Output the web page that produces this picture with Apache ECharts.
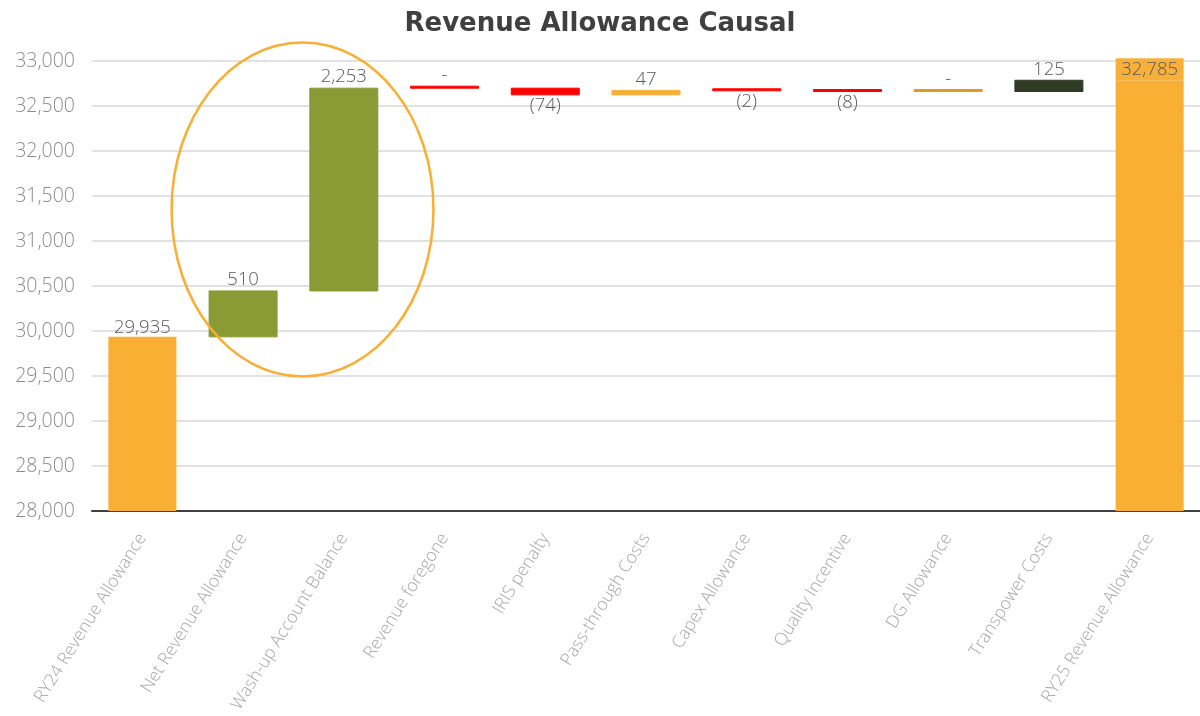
<!DOCTYPE html>
<html>
<head>
<meta charset="utf-8">
<script src="https://cdn.jsdelivr.net/npm/echarts@6/dist/echarts.min.js"></script>
<style>
  html, body { margin: 0; padding: 0; background: #fff; }
  #chart { width: 1200px; height: 716px; }
</style>
</head>
<body>
<div id="chart"></div>
<script>
// Revenue allowance bridge from RY24 to RY25 ($000)
const categories = [
  'RY24 Revenue Allowance', 'Net Revenue Allowance', 'Wash-up Account Balance',
  'Revenue foregone', 'IRIS penalty', 'Pass-through Costs', 'Capex Allowance',
  'Quality Incentive', 'DG Allowance', 'Transpower Costs', 'RY25 Revenue Allowance'
];
const values = [29935, 510, 2253, 0, -74, 47, -2, -8, 0, 125, 32785];
const isTotal = [true, false, false, false, false, false, false, false, false, false, true];
const barColors = [
  '#F9AE34', '#8A9A35', '#8A9A35', '#FF0000', '#FF0000', '#F9AE34',
  '#FF0000', '#FF0000', '#E39A1F', '#2F3B24', '#F9AE34'
];
const yTicks = { min: 28000, max: 33000, interval: 500 };

// Build floating base + step series for the bridge
const totalData = [];
const baseData = [];
const stepData = [];
let running = 0;
values.forEach((v, i) => {
  if (isTotal[i]) {
    running = v;
    totalData.push({ value: v, itemStyle: { color: barColors[i] } });
    baseData.push('-');
    stepData.push('-');
  } else {
    const start = running;
    const end = running + v;
    running = end;
    totalData.push('-');
    baseData.push(Math.min(start, end));
    stepData.push({ value: Math.abs(v), raw: v, itemStyle: { color: barColors[i], borderColor: barColors[i] } });
  }
});

const fmt = v => {
  if (v === 0) return '-';
  const s = Math.abs(v).toLocaleString('en-US');
  return v < 0 ? '(' + s + ')' : s;
};

const FONT = '"Open Sans", "Noto Sans", sans-serif';
const TITLE_FONT = '"DejaVu Sans", sans-serif';
const chart = echarts.init(document.getElementById('chart'));
chart.setOption({
  animation: false,
  backgroundColor: '#fff',
  title: {
    text: 'Revenue Allowance Causal',
    left: 'center',
    top: 6,
    textStyle: { fontFamily: TITLE_FONT, fontWeight: 'bold', fontSize: 26, color: '#404040' }
  },
  grid: { left: 92, right: 0, top: 61, bottom: 205 },
  xAxis: {
    type: 'category',
    data: categories,
    axisLine: { show: true, lineStyle: { color: '#404040', width: 2 } },
    axisTick: { show: false },
    axisLabel: {
      interval: 0, rotate: 58, margin: 24,
      fontFamily: FONT, fontWeight: 300, fontSize: 17.5, color: '#A6A6A6'
    }
  },
  yAxis: {
    type: 'value',
    min: yTicks.min, max: yTicks.max, interval: yTicks.interval,
    axisLine: { show: false },
    axisTick: { show: false },
    splitLine: { lineStyle: { color: '#D9D9D9', width: 1.5 } },
    axisLabel: {
      margin: 17, fontFamily: FONT, fontWeight: 300, fontSize: 19.5, color: '#8C8C8C',
      formatter: v => v.toLocaleString('en-US')
    }
  },
  series: [
    {
      name: 'total', type: 'bar', barWidth: 68, barGap: '-100%',
      data: totalData,
      label: {
        show: true, position: 'top', distance: 0,
        fontFamily: FONT, fontWeight: 300, fontSize: 18.5, color: '#595959',
        formatter: p => fmt(p.value)
      }
    },
    {
      name: 'base', type: 'bar', stack: 'bridge', barWidth: 68, barGap: '-100%',
      data: baseData,
      itemStyle: { color: 'transparent' },
      emphasis: { disabled: true }
    },
    {
      name: 'step', type: 'bar', stack: 'bridge', barWidth: 68, barGap: '-100%',
      barMinHeight: 2,
      data: stepData,
      label: {
        show: true, distance: 1,
        fontFamily: FONT, fontWeight: 300, fontSize: 18.5, color: '#595959',
        formatter: p => fmt(p.data.raw)
      }
    }
  ]
});

// Put negative labels under their bars, and give the closing total a filled label box
const opt = chart.getOption();
const steps = opt.series[2].data.map(d => {
  if (d === '-' || d == null) return d;
  return Object.assign({}, d, { label: { position: d.raw < 0 ? 'bottom' : 'top' } });
});
const totals = opt.series[0].data.map((d, i) => {
  if (d === '-' || d == null) return d;
  if (i === values.length - 1) {
    return Object.assign({}, d, {
      label: {
        backgroundColor: '#F9B03A', width: 68, align: 'center',
        padding: [2, 0, 1, 0], distance: 0
      }
    });
  }
  return d;
});
chart.setOption({ series: [{ data: totals }, {}, { data: steps }] });

// Highlight ring around the wash-up drivers
const p1 = chart.convertToPixel({ xAxisIndex: 0 }, categories[1]);
const p2 = chart.convertToPixel({ xAxisIndex: 0 }, categories[2]);
const band = p2 - p1;
const cy = chart.convertToPixel({ yAxisIndex: 0 }, 31350);
chart.setOption({
  graphic: [{
    type: 'ellipse',
    shape: { cx: (p1 + p2) / 2 + band * 0.09, cy: cy, rx: band * 1.3, ry: 167 },
    style: { fill: 'none', stroke: '#F9AE34', lineWidth: 2.5 },
    z: 100
  }]
});
</script>
</body>
</html>
